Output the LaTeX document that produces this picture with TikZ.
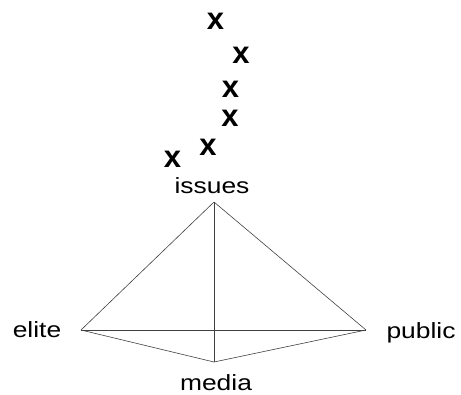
\documentclass[tikz,border=0pt]{standalone}
\usepackage{fontspec}
\setmainfont{Liberation Sans}
\newfontfamily\lblfont[FakeStretch=1.2]{Liberation Sans}
\begin{document}
\begin{tikzpicture}[x=1pt,y=-1pt,
  lbl/.style={font=\lblfont\fontsize{22}{22}\selectfont, anchor=base, inner sep=0pt},
  xmark/.style={font=\bfseries\fontsize{31}{31}\selectfont, inner sep=0pt},
  edge/.style={draw=black!75, line width=0.6pt}]
\useasboundingbox (0,0) rectangle (461,394);
\coordinate (A) at (214,202);
\coordinate (E) at (81,330);
\coordinate (P) at (366,330);
\coordinate (M) at (214,362);
\draw[edge] (A) -- (E);
\draw[edge] (A) -- (P);
\draw[edge] (A) -- (M);
\draw[edge] (E) -- (P);
\draw[edge] (E) -- (M);
\draw[edge] (P) -- (M);
\node[lbl] (issues) at (212,193) {issues};
\node[lbl] (elite) at (37,337) {elite};
\node[lbl] (public) at (421,338) {public};
\node[lbl] (media) at (216,390) {media};
\node[xmark] (x1) at (215.5,21.5) {x};
\node[xmark] (x2) at (241,55.5) {x};
\node[xmark] (x3) at (230.5,89.5) {x};
\node[xmark] (x4) at (230,118.5) {x};
\node[xmark] (x5) at (208,147.5) {x};
\node[xmark] (x6) at (172.5,159.5) {x};
\end{tikzpicture}
\end{document}
